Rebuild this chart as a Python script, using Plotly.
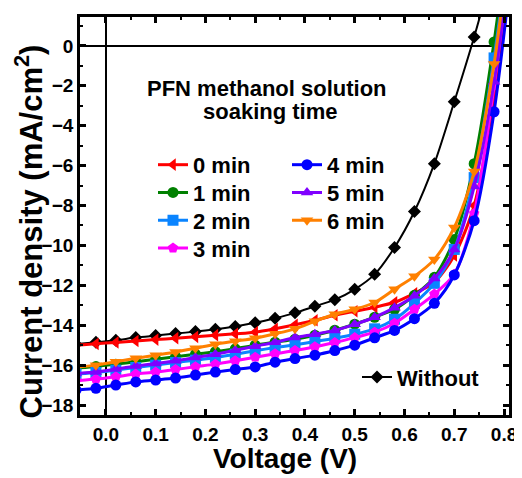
import plotly.graph_objects as go

voltage = [-0.06, -0.02, 0.02, 0.06, 0.10, 0.14, 0.18, 0.22, 0.26, 0.30, 0.34, 0.38,
           0.42, 0.46, 0.50, 0.54, 0.58, 0.62, 0.66, 0.70, 0.74, 0.78, 0.82]

j_without = [-14.95, -14.85, -14.75, -14.62, -14.52, -14.42, -14.32, -14.20, -14.06, -13.88,
             -13.65, -13.38, -13.05, -12.72, -12.20, -11.45, -10.10, -8.30, -5.90, -2.80,
             0.45, 4.1, 8.0]
j_0min = [-15.00, -14.93, -14.86, -14.79, -14.72, -14.65, -14.58, -14.50, -14.43, -14.35,
          -14.18, -13.98, -13.75, -13.50, -13.30, -13.10, -12.85, -12.40, -11.85, -10.50,
          -8.00, -2.50, 6.0]
j_1min = [-16.15, -16.07, -15.95, -15.83, -15.70, -15.58, -15.45, -15.33, -15.18, -15.00,
          -14.85, -14.70, -14.50, -14.25, -13.95, -13.60, -13.20, -12.50, -11.60, -9.70,
          -5.90, 0.20, 8.0]
j_2min = [-16.45, -16.37, -16.25, -16.12, -16.00, -15.87, -15.75, -15.62, -15.45, -15.28,
          -15.12, -14.98, -14.82, -14.65, -14.45, -14.18, -13.70, -12.90, -11.90, -10.20,
          -6.60, -0.60, 7.0]
j_3min = [-16.78, -16.70, -16.58, -16.45, -16.35, -16.22, -16.08, -15.95, -15.78, -15.60,
          -15.43, -15.27, -15.08, -14.87, -14.62, -14.35, -13.90, -13.20, -12.44, -11.44,
          -8.40, -2.00, 6.0]
j_4min = [-17.25, -17.16, -17.00, -16.84, -16.75, -16.65, -16.50, -16.35, -16.22, -16.09,
          -15.85, -15.67, -15.50, -15.27, -15.00, -14.63, -14.26, -13.67, -12.90, -11.48,
          -8.76, -3.30, 5.0]
j_5min = [-16.42, -16.35, -16.20, -16.05, -15.92, -15.78, -15.62, -15.45, -15.25, -15.05,
          -14.85, -14.62, -14.45, -14.26, -13.95, -13.60, -13.12, -12.52, -11.66, -10.20,
          -7.05, -1.80, 6.0]
j_6min = [-16.10, -16.00, -15.83, -15.66, -15.50, -15.34, -15.15, -14.95, -14.80, -14.65,
          -14.43, -14.18, -13.80, -13.45, -13.20, -12.86, -12.20, -11.55, -10.70, -9.10,
          -6.30, -0.90, 7.0]

x_ticks = [0.0, 0.1, 0.2, 0.3, 0.4, 0.5, 0.6, 0.7, 0.8]
y_ticks = [-18, -16, -14, -12, -10, -8, -6, -4, -2, 0]

FONT = "Arial, Liberation Sans, sans-serif"

# plot area in screenshot pixels
PL, PR, PT, PB = 80, 509, 14, 415
def px(xp):
    return (xp - PL) / (PR - PL)
def py(yp):
    return 1 - (yp - PT) / (PB - PT)

# (name, data, color, symbol, legend id, line width, legend text x, legend row center y)
series = [
    ("Without", j_without, "black", "diamond", "legend8", 2, 397, 377),
    ("0 min", j_0min, "#FF0000", "triangle-left", "legend", 3, 193, 163),
    ("1 min", j_1min, "#008000", "circle", "legend2", 3, 193, 191),
    ("2 min", j_2min, "#0A84FF", "square", "legend3", 3, 193, 219),
    ("3 min", j_3min, "#FF00FF", "pentagon", "legend4", 3, 193, 247),
    ("4 min", j_4min, "#0000FF", "circle", "legend5", 3, 327, 163),
    ("5 min", j_5min, "#8000FF", "triangle-up", "legend6", 3, 327, 191),
    ("6 min", j_6min, "#FF8000", "triangle-down", "legend7", 3, 327, 219),
]

fig = go.Figure()
legends = {}
for name, ys, color, sym, lg, lw, tx, ty in series:
    fig.add_trace(go.Scatter(
        x=voltage, y=ys, name=name, mode="lines+markers",
        line=dict(color=color, width=lw, shape="spline", smoothing=0.8),
        marker=dict(symbol=sym, size=11 if sym != "diamond" else 10, color=color),
        legend=lg,
    ))
    legends[lg] = dict(
        x=px(tx - 40), y=py(ty), xanchor="left", yanchor="middle",
        bgcolor="rgba(0,0,0,0)", borderwidth=0,
        font=dict(family=FONT, size=22, color="black", weight="bold"),
    )

axis_common = dict(
    showline=True, linecolor="black", linewidth=2.5, mirror="allticks",
    ticks="inside", ticklen=6, tickwidth=2.5, tickcolor="black",
    showgrid=False,
    tickfont=dict(family=FONT, size=19, color="black", weight="bold"),
    zeroline=True, zerolinecolor="black", zerolinewidth=2,
)

fig.update_xaxes(range=[-0.052, 0.81], tickvals=x_ticks, tickformat=".1f",
                 minor=dict(dtick=0.05, tick0=0, ticks="inside", ticklen=3, tickwidth=2, tickcolor="black"),
                 **axis_common)
fig.update_yaxes(range=[-18.5, 1.45], tickvals=y_ticks,
                 minor=dict(dtick=1, tick0=0, ticks="inside", ticklen=3, tickwidth=2, tickcolor="black"),
                 **axis_common)

# page body adds an 8px offset, margins compensate
fig.update_layout(
    width=522, height=478,
    margin=dict(l=PL - 8, r=522 + 8 - PR, t=PT - 8, b=478 + 8 - PB),
    paper_bgcolor="white", plot_bgcolor="white",
    showlegend=True,
    **legends,
    annotations=[
        dict(text="PFN methanol solution", x=px(267), y=py(86), xref="paper", yref="paper",
             xanchor="center", yanchor="middle", showarrow=False,
             font=dict(family=FONT, size=22, color="black", weight="bold")),
        dict(text="soaking time", x=px(270), y=py(109), xref="paper", yref="paper",
             xanchor="center", yanchor="middle", showarrow=False,
             font=dict(family=FONT, size=22, color="black", weight="bold")),
        dict(text="Voltage (V)", x=px(285), y=py(459), xref="paper", yref="paper",
             xanchor="center", yanchor="middle", showarrow=False,
             font=dict(family=FONT, size=28, color="black", weight="bold")),
        dict(text="Current density (mA/cm<sup>2</sup>)", x=px(29), y=py(230),
             xref="paper", yref="paper", xanchor="center", yanchor="middle",
             showarrow=False, textangle=-90,
             font=dict(family=FONT, size=31, color="black", weight="bold")),
    ],
)

fig.write_html("out.html")
